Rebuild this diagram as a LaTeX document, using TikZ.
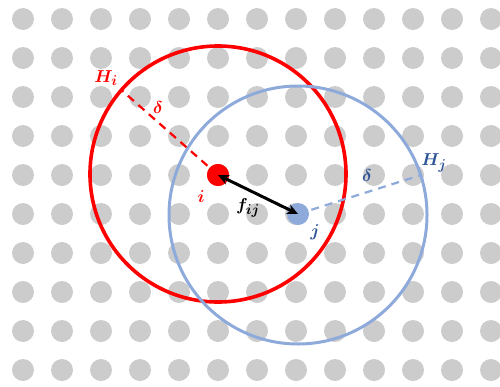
\documentclass[tikz,border=0pt]{standalone}
\definecolor{dotGray}{HTML}{CCCCCC}
\definecolor{zoneBlue}{HTML}{8EAADB}
\definecolor{labelBlue}{HTML}{2F5597}
\usepackage{tikz}
\usetikzlibrary{arrows.meta, positioning}
\usepackage{amsmath}

\begin{document}
\begin{tikzpicture}[
        x=1pt, y=-1pt,
        site/.style={circle, fill=dotGray, minimum size=22pt, inner sep=0pt},
        agent/.style={circle, minimum size=22pt, inner sep=0pt},
        zone/.style={circle, inner sep=0pt, outer sep=0pt},
        reach/.style={dash pattern=on 8pt off 6pt, line width=2.2pt},
        lbl/.style={inner sep=0pt, font=\fontsize{19}{22}\selectfont\boldmath},
        arr/.style={{Stealth[length=11pt, width=10pt]}-{Stealth[length=11pt, width=10pt]}, line width=3pt},
      ]
        \useasboundingbox (0,0) rectangle (500,386);
        \clip (0,0) rectangle (500,386);

        % lattice of sites
        \foreach \col in {0,...,12}
          \foreach \row in {0,...,9}
            \node[site] (s-\col-\row) at (23+39*\col, 19+39*\row) {};

        % interaction zones
        \node[zone, draw=red, line width=3.6pt, minimum size=256pt] (Hi) at (218,174) {};
        \node[zone, draw=zoneBlue, line width=3pt, minimum size=258pt] (Hj) at (298,215) {};

        \node[agent, fill=red] (i) at (218,175) {};
        \node[agent, fill=zoneBlue] (j) at (298,214) {};

        \draw[reach, red] (i.center) -- (Hi.139.5);
        \draw[reach, zoneBlue] (j.center) -- (Hj.18.6);
        \fill[red] (i) circle (11pt);

        \draw[arr] (i.center) -- (j.center);

        \node[lbl, text=red] (Hilbl) at (106,78) {$H_i$};
        \node[lbl, text=red] (di) at (158,107) {$\delta$};
        \node[lbl, text=red] (ilbl) at (201,197) {$i$};
        \node[lbl] (fij) at (248,208) {$f_{ij}$};
        \node[lbl, text=labelBlue] (jlbl) at (315,232) {$j$};
        \node[lbl, text=labelBlue] (dj) at (367,175) {$\delta$};
        \node[lbl, text=labelBlue] (Hjlbl) at (434,163) {$H_j$};
      \end{tikzpicture}
\end{document}
